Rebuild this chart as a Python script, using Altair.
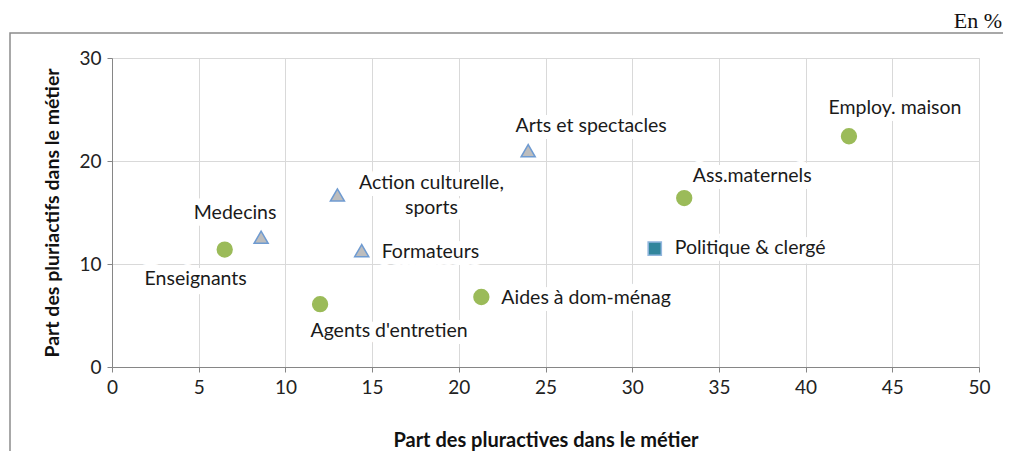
import altair as alt
import pandas as pd

# ---- data ----
names = ["Enseignants", "Medecins", "Action culturelle", "Formateurs", "Agents d'entretien",
         "Aides à dom-ménag", "Arts et spectacles", "Ass.maternels", "Politique & clergé",
         "Employ. maison"]
labels = ["Enseignants", "Medecins", "Action culturelle,\nsports", "Formateurs",
          "Agents d'entretien", "Aides à dom-ménag", "Arts et spectacles", "Ass.maternels",
          "Politique & clergé", "Employ. maison"]
part_pluractives = [6.5, 8.6, 13.0, 14.4, 12.0, 21.3, 24.0, 33.0, 31.3, 42.5]
part_pluriactifs = [11.4, 12.6, 16.7, 11.3, 6.1, 6.8, 21.0, 16.4, 11.5, 22.4]
groupe = ["rond", "triangle", "triangle", "triangle", "rond", "rond", "triangle", "rond",
          "carre", "rond"]

x_ticks = [0, 5, 10, 15, 20, 25, 30, 35, 40, 45, 50]
y_ticks = [0, 10, 20, 30]

# label placement (pixel offsets from the marker, alignment)
label_dx = [-29, -26, 94, 20, 69, 20, 63, 68, 20, 46]
label_dy = [29, -24, -12, 1, 27, 1, -25, -22, -1, -28]
label_align = ["center", "center", "center", "left", "center", "left", "center", "center",
               "left", "center"]

df = pd.DataFrame({
    "name": names,
    "label": labels,
    "x": part_pluractives,
    "y": part_pluriactifs,
    "groupe": groupe,
})

FONT = "Lato"
W, H = 867, 309

xenc = alt.X("x:Q", scale=alt.Scale(domain=[0, 50], nice=False),
             axis=alt.Axis(values=x_ticks, title="Part des pluractives dans le métier",
                           grid=True, gridColor="#D9D9D9", domainColor="#868686",
                           tickColor="#868686", tickSize=5, labelFontSize=19,
                           labelFont=FONT, labelColor="#222222", labelPadding=6,
                           labelFlush=False,
                           titleFont=FONT, titleFontSize=20, titleFontWeight="bold",
                           titleColor="#111111", titleY=73, titleBaseline="middle"))
yenc = alt.Y("y:Q", scale=alt.Scale(domain=[0, 30], nice=False),
             axis=alt.Axis(values=y_ticks, title="Part des pluriactifs dans le métier",
                           grid=True, gridColor="#D9D9D9", domainColor="#868686",
                           tickColor="#868686", tickSize=5, labelFontSize=19,
                           labelFont=FONT, labelColor="#222222", labelPadding=6,
                           labelFlush=False,
                           titleFont=FONT, titleFontSize=19.5, titleFontWeight="bold",
                           titleColor="#111111", titleX=-60, titleBaseline="middle"))

base = alt.Chart(df)

points = base.mark_point(filled=True, opacity=1, strokeWidth=1.5).encode(
    x=xenc, y=yenc,
    shape=alt.Shape("groupe:N", scale=alt.Scale(domain=["rond", "triangle", "carre"],
                    range=["circle", "triangle-up", "square"]), legend=None),
    fill=alt.Fill("groupe:N", scale=alt.Scale(domain=["rond", "triangle", "carre"],
                  range=["#9BBB59", "#BDBDBD", "#31859C"]), legend=None),
    stroke=alt.Stroke("groupe:N", scale=alt.Scale(domain=["rond", "triangle", "carre"],
                      range=["#9BBB59", "#6F9BD1", "#93B7DE"]), legend=None),
    size=alt.Size("groupe:N", scale=alt.Scale(domain=["rond", "triangle", "carre"],
                  range=[220, 175, 250]), legend=None),
)

layers = []
# frame of the figure
frame = alt.Chart(pd.DataFrame({"k": [0]})).mark_rect(
    fill="white", fillOpacity=0, stroke="#8C8C8C", strokeWidth=1.5
).encode(x=alt.value(-102), x2=alt.value(1000), y=alt.value(-25), y2=alt.value(500))
layers.append(frame)

unit = alt.Chart(pd.DataFrame({"t": ["En %"]})).mark_text(
    font="Liberation Serif", fontSize=22, align="right", baseline="alphabetic", color="#111111"
).encode(x=alt.value(890), y=alt.value(-30), text="t:N")
layers.append(unit)

layers.append(points)

for i, nm in enumerate(names):
    sel = base.transform_filter(alt.datum.name == nm)
    common = dict(dx=label_dx[i], dy=label_dy[i], align=label_align[i], baseline="middle",
                  font=FONT, fontSize=19.5, lineBreak="\n", lineHeight=25)
    halo = sel.mark_text(color="white", stroke="white", strokeWidth=14, strokeJoin="round",
                         **common).encode(x="x:Q", y="y:Q", text="label:N")
    txt = sel.mark_text(color="#1A1A1A", **common).encode(x="x:Q", y="y:Q", text="label:N")
    layers.append(halo)
    layers.append(txt)

chart = alt.layer(*layers).properties(
    width=W, height=H,
    autosize=alt.AutoSizeParams(type="none"),
    padding={"left": 104, "top": 50, "right": 24, "bottom": 84},
).configure_view(stroke=None).configure(background="white")

chart.save("out.html", embed_options={"renderer": "svg", "actions": False})
